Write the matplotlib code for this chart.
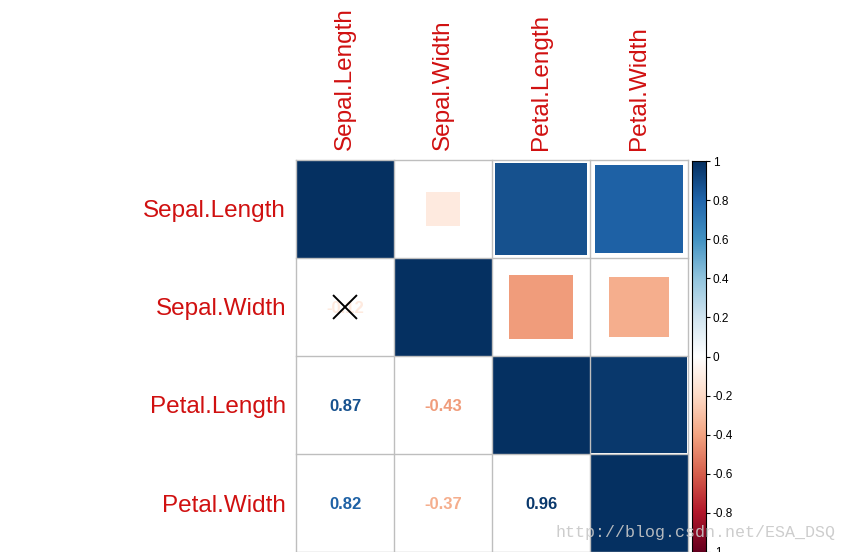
import numpy as np
import matplotlib
matplotlib.use("Agg")
import matplotlib.pyplot as plt
from matplotlib.colors import LinearSegmentedColormap
from matplotlib.patches import Rectangle

variables = ["Sepal.Length", "Sepal.Width", "Petal.Length", "Petal.Width"]
corr = np.array([
    [1.00, -0.12, 0.87, 0.82],
    [-0.12, 1.00, -0.43, -0.37],
    [0.87, -0.43, 1.00, 0.96],
    [0.82, -0.37, 0.96, 1.00],
])
insignificant = [(1, 0)]  # (row, col) in lower triangle marked with X
cbar_ticks = [-1, -0.8, -0.6, -0.4, -0.2, 0, 0.2, 0.4, 0.6, 0.8, 1]
cbar_labels = ["-1", "-0.8", "-0.6", "-0.4", "-0.2", "0", "0.2", "0.4", "0.6", "0.8", "1"]

col2 = ["#67001F", "#B2182B", "#D6604D", "#F4A582", "#FDDBC7", "#FFFFFF",
        "#D1E5F0", "#92C5DE", "#4393C3", "#2166AC", "#053061"]
cmap = LinearSegmentedColormap.from_list("corrRdBu", col2, N=200)

def col_of(v):
    return cmap((v + 1) / 2)

W, H = 847, 552
fig = plt.figure(figsize=(W / 100, H / 100), dpi=100)
fig.patch.set_facecolor("white")

x0, x1, y0, y1 = 296, 688, 160, 552
ax = fig.add_axes([x0 / W, 1 - y1 / H, (x1 - x0) / W, (y1 - y0) / H])
n = len(variables)
ax.set_xlim(0, n)
ax.set_ylim(n, 0)
ax.set_aspect("auto")
for s in ax.spines.values():
    s.set_visible(False)

lab_col = "#D01010"
for i in range(n):
    for j in range(n):
        v = corr[i, j]
        cx, cy = j + 0.5, i + 0.5
        if j >= i:
            side = np.sqrt(abs(v))
            ax.add_patch(Rectangle((cx - side / 2, cy - side / 2), side, side,
                                   facecolor=col_of(v), edgecolor="none", zorder=2))
        else:
            ax.text(cx, cy + 0.02, f"{v:.2f}", ha="center", va="center",
                    fontsize=12, fontweight="bold", color=col_of(v),
                    family="Liberation Sans", zorder=3)
            if (i, j) in insignificant:
                d = 0.115
                ax.plot([cx - d, cx + d], [cy - d, cy + d], color="black", lw=1.4, zorder=4)
                ax.plot([cx - d, cx + d], [cy + d, cy - d], color="black", lw=1.4, zorder=4)

for k in range(n + 1):
    ax.plot([k, k], [0, n], color="#BEBEBE", lw=1, zorder=5, clip_on=False)
    ax.plot([0, n], [k, k], color="#BEBEBE", lw=1, zorder=5, clip_on=False)

ax.set_xticks([])
ax.set_yticks(np.arange(n) + 0.5)
ax.set_yticklabels(variables, fontsize=17.5, color=lab_col, family="Liberation Sans")
ax.tick_params(axis="y", length=0, pad=7)
for j, name in enumerate(variables):
    ax.text(j + 0.5, -0.1, name, rotation=90, ha="center", va="bottom",
            fontsize=17.5, color=lab_col, family="Liberation Sans")

# colorbar
cb = fig.add_axes([692 / W, 1 - 552 / H, 14 / W, (552 - 161) / H])
grad = np.linspace(-1, 1, 200).reshape(-1, 1)
cb.imshow(grad, cmap=cmap, aspect="auto", origin="lower", extent=[0, 1, -1, 1], vmin=-1, vmax=1)
cb.set_xticks([])
cb.yaxis.tick_right()
cb.set_yticks(cbar_ticks)
cb.set_yticklabels(cbar_labels, fontsize=8.5, family="Liberation Sans")
cb.tick_params(axis="y", length=3, width=0.8, pad=2)
for s in cb.spines.values():
    s.set_linewidth(0.8)

fig.text(835 / W, 1 - 533 / H, "http://blog.csdn.net/ESA_DSQ", ha="right", va="center",
         fontsize=12, family="Liberation Mono", color="#C8C8C8", alpha=0.9)

fig.savefig("out.png", dpi=100)
